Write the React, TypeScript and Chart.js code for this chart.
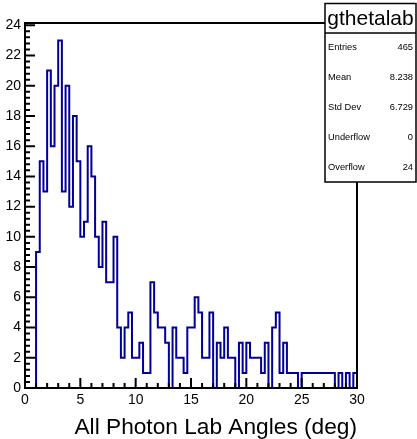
import { useEffect, useRef } from 'react';
import { Chart, registerables } from 'chart.js';
Chart.register(...registerables);

const histName = 'gthetalab';
const xAxisTitle = 'All Photon Lab Angles (deg)';
const xMin = 0;
const xMax = 30;
const nBins = 90;
const yMax = 24.15;
const binCounts = [
  0, 0, 0, 9, 15, 13, 21, 16, 20, 23,
  13, 20, 12, 18, 15, 10, 11, 16, 14, 10,
  8, 11, 7, 7, 10, 4, 2, 4, 5, 2,
  2, 3, 1, 1, 7, 5, 4, 4, 3, 0,
  4, 2, 2, 1, 4, 4, 6, 5, 2, 2,
  5, 0, 3, 2, 4, 2, 2, 0, 3, 1,
  3, 2, 2, 2, 1, 3, 0, 4, 5, 1,
  3, 1, 1, 1, 0, 1, 1, 1, 1, 1,
  1, 1, 1, 1, 0, 1, 0, 1, 0, 1,
];
const xTickLabels = [0, 5, 10, 15, 20, 25, 30];
const yTickLabels = [0, 2, 4, 6, 8, 10, 12, 14, 16, 18, 20, 22, 24];
const statsLabels = ['Entries', 'Mean', 'Std Dev', 'Underflow', 'Overflow'];
const statsValues = ['465', '8.238', '6.729', '0', '24'];

const FONT = '"Liberation Sans", Arial, Helvetica, sans-serif';

export default function App() {
  const ref = useRef<HTMLCanvasElement | null>(null);
  useEffect(() => {
    if (!ref.current) return;
    const binW = (xMax - xMin) / nBins;
    const pts = binCounts.map((c, i) => ({ x: xMin + i * binW, y: c }));
    pts.push({ x: xMax, y: binCounts[binCounts.length - 1] });
    pts.push({ x: xMax, y: 0 });

    const axesPlugin = {
      id: 'rootAxes',
      afterDatasetsDraw(chart: any) {
        const { ctx, chartArea } = chart;
        const xs = chart.scales.x;
        const ys = chart.scales.y;
        const { left, right, top, bottom } = chartArea;
        ctx.save();
        ctx.strokeStyle = '#000';
        ctx.fillStyle = '#000';
        ctx.lineWidth = 2;
        ctx.strokeRect(left, top, right - left, bottom - top);
        // y ticks
        const yMajor = yTickLabels[1] - yTickLabels[0];
        const yStep = yMajor / 5;
        ctx.beginPath();
        for (let v = yTickLabels[0]; v <= yMax + 1e-9; v += yStep) {
          const p = ys.getPixelForValue(v);
          const major = Math.abs(v / yMajor - Math.round(v / yMajor)) < 1e-6;
          ctx.moveTo(left, p);
          ctx.lineTo(left + (major ? 10 : 5), p);
        }
        const xMajor = xTickLabels[1] - xTickLabels[0];
        const xStep = xMajor / 5;
        for (let v = xTickLabels[0]; v <= xMax + 1e-9; v += xStep) {
          const p = xs.getPixelForValue(v);
          const major = Math.abs(v / xMajor - Math.round(v / xMajor)) < 1e-6;
          ctx.moveTo(p, bottom);
          ctx.lineTo(p, bottom - (major ? 10 : 5));
        }
        ctx.stroke();
        // labels
        ctx.font = `14px ${FONT}`;
        ctx.textAlign = 'right';
        ctx.textBaseline = 'middle';
        yTickLabels.forEach((v) => {
          ctx.fillText(String(v), left - 4, ys.getPixelForValue(v));
        });
        ctx.textAlign = 'center';
        ctx.textBaseline = 'top';
        xTickLabels.forEach((v) => {
          ctx.fillText(String(v), xs.getPixelForValue(v), bottom + 5);
        });
        ctx.font = `22.7px ${FONT}`;
        ctx.textAlign = 'right';
        ctx.textBaseline = 'alphabetic';
        ctx.fillText(xAxisTitle, right, 434);
        // stats box
        const bl = 325, br = 416, bt = 3.5, bb = 182;
        ctx.fillStyle = '#fff';
        ctx.fillRect(bl, bt, br - bl, bb - bt);
        ctx.lineWidth = 1.5;
        ctx.strokeRect(bl, bt, br - bl, bb - bt);
        ctx.beginPath();
        ctx.moveTo(bl, 33);
        ctx.lineTo(br, 33);
        ctx.stroke();
        ctx.fillStyle = '#000';
        ctx.font = `21px ${FONT}`;
        ctx.textAlign = 'center';
        ctx.textBaseline = 'middle';
        ctx.fillText(histName, (bl + br) / 2, 19);
        ctx.font = `9.3px ${FONT}`;
        const rowH = (bb - 33) / statsLabels.length;
        statsLabels.forEach((lab, i) => {
          const yy = 33 + rowH * (i + 0.5);
          ctx.textAlign = 'left';
          ctx.fillText(lab, bl + 3, yy);
          ctx.textAlign = 'right';
          ctx.fillText(statsValues[i], br - 3, yy);
        });
        ctx.restore();
      },
    };

    const chart = new Chart(ref.current, {
      type: 'line',
      data: {
        datasets: [
          {
            data: pts,
            stepped: 'before',
            borderColor: '#000099',
            borderWidth: 2,
            pointRadius: 0,
            fill: false,
            clip: 4,
          } as any,
        ],
      },
      options: {
        animation: false,
        responsive: false,
        parsing: false as any,
        layout: { padding: { left: 25, top: 23, right: 60, bottom: 51 } },
        plugins: { legend: { display: false }, tooltip: { enabled: false } },
        scales: {
          x: { type: 'linear', min: xMin, max: xMax, display: false },
          y: { type: 'linear', min: 0, max: yMax, display: false },
        },
      },
      plugins: [axesPlugin],
    });
    return () => chart.destroy();
  }, []);
  return (
    <div style={{ position: 'fixed', left: 0, top: 0, width: 417, height: 439, background: '#fff' }}>
      <canvas ref={ref} width={417} height={439} />
    </div>
  );
}
